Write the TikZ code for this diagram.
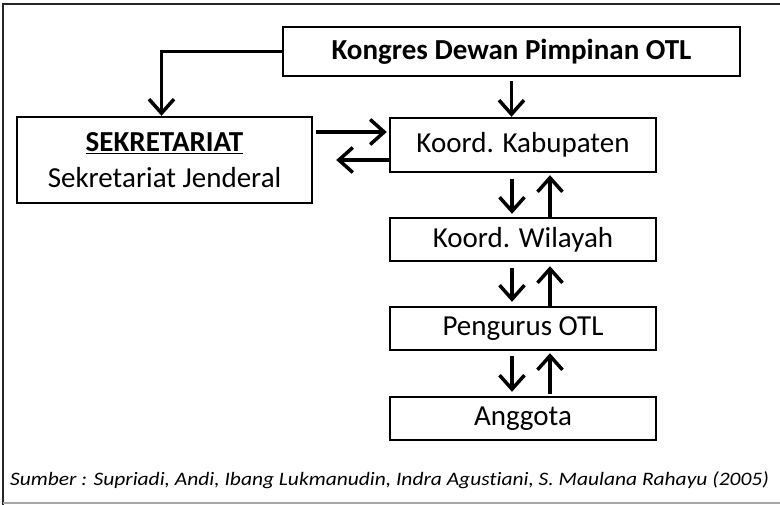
\documentclass[tikz,border=0pt]{standalone}
\usepackage{fontspec}
\usepackage{graphicx}
\setmainfont{Carlito}[Ligatures=NoCommon]
\usetikzlibrary{arrows.meta}

\begin{document}
\begin{tikzpicture}[
    x=1pt, y=-1pt,
    every node/.style={font=\fontsize{29}{36}\selectfont},
    box/.style={
        draw,
        line width=2.4pt,
        align=center,
        inner sep=0pt
    },
    wide/.style={
        box,
        minimum width=266pt,
        minimum height=43pt
    },
    arr/.style={
        -{Straight Barb[length=14pt,width=25pt,line width=3.5pt]},
        line width=3.5pt
    }
]

    \useasboundingbox (0,0) rectangle (780,505);

    % frame
    \draw[line width=2.5pt, black!85] (3,505) -- (3,4) -- (780,4);
    \draw[line width=1.5pt, black!35] (3,503) -- (780,503);

    % top box
    \node[
        box,
        minimum width=457pt,
        minimum height=49pt
    ] (kongres) at (511.5,51.5) {\textbf{Kongres Dewan Pimpinan OTL}};

    % secretariat
    \node[
        box,
        minimum width=295pt,
        minimum height=86pt
    ] (sekretariat) at (164.5,160) {\underline{\textbf{SEKRETARIAT}}\\Sekretariat Jenderal};

    % coordinator chain
    \node[wide, minimum height=54pt] (kabupaten) at (523,145) {Koord. Kabupaten};
    \node[wide] (wilayah) at (523,239.5) {Koord. Wilayah};
    \node[wide] (pengurus) at (523,328.5) {Pengurus OTL};
    \node[wide] (anggota) at (523,418.5) {Anggota};

    % source
    \node[
        anchor=base west,
        inner sep=0pt,
        font=\fontsize{19}{20}\selectfont\itshape
    ] (sumber) at (10,485) {\scalebox{1.13}[1]{Sumber : Supriadi, Andi, Ibang Lukmanudin, Indra Agustiani, S. Maulana Rahayu (2005)}};

    % Arrows
    \draw[arr] (kongres.west) -| ([xshift=-3pt]sekretariat.north);
    \draw[arr, shorten <=4pt] (kongres.south) -- (kongres.south |- kabupaten.north);

    \draw[arr, shorten <=3pt, shorten >=2pt] ([yshift=13pt]kabupaten.west -| sekretariat.east) -- ([yshift=13pt]kabupaten.west);
    \draw[arr, shorten >=23pt] (kabupaten.west |- sekretariat.east) -- (sekretariat.east);

    \draw[arr, shorten <=6pt, shorten >=3pt] ([xshift=-11pt]kabupaten.south) -- ([xshift=-11pt]wilayah.north);
    \draw[arr, shorten >=2pt] ([xshift=27pt]wilayah.north) -- ([xshift=27pt]kabupaten.south);

    \draw[arr, shorten <=6pt, shorten >=4pt] ([xshift=-11pt]wilayah.south) -- ([xshift=-11pt]pengurus.north);
    \draw[arr, shorten >=4pt] ([xshift=27pt]pengurus.north) -- ([xshift=27pt]wilayah.south);

    \draw[arr, shorten <=5pt, shorten >=4pt] ([xshift=-11pt]pengurus.south) -- ([xshift=-11pt]anggota.north);
    \draw[arr, shorten <=2pt, shorten >=2pt] ([xshift=27pt]anggota.north) -- ([xshift=27pt]pengurus.south);

\end{tikzpicture}
\end{document}
